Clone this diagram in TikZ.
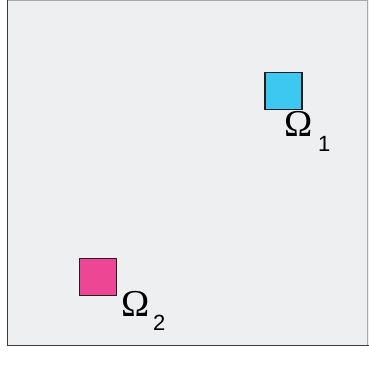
\documentclass[tikz,border=0pt]{standalone}
\usepackage{fontspec}
\setmainfont{Liberation Serif}
\newfontfamily\subfont{Liberation Sans}
\definecolor{bgpanel}{HTML}{EEEFF1}
\definecolor{edgedark}{HTML}{3A3A3C}
\definecolor{edgelight}{HTML}{A8A9AB}
\definecolor{sqblue}{HTML}{3CC8F0}
\definecolor{sqpink}{HTML}{EC4695}
\definecolor{sqedge}{HTML}{231F20}
\tikzset{
  sqbox/.style={draw=sqedge, line width=1.3pt, minimum size=37pt, inner sep=0pt},
  omg/.style={anchor=base west, inner sep=0pt, font=\fontsize{38}{40}\selectfont},
  sub/.style={anchor=base west, inner sep=0pt, font=\subfont\fontsize{22}{24}\selectfont}
}
\begin{document}
\begin{tikzpicture}[x=1pt,y=1pt]
\useasboundingbox (0,0) rectangle (369,370);
\fill[bgpanel] (7.5,24.5) rectangle (369,370);
\draw[edgelight, line width=1pt] (7.5,369.5) -- (367.5,369.5) -- (367.5,24.5);
\draw[edgedark, line width=1.6pt] (7.5,370) -- (7.5,24.5) -- (369,24.5);
\node[sqbox, fill=sqblue] (s1) at (283.5,279) {};
\node[sqbox, fill=sqpink] (s2) at (98,93) {};
\node[omg] (o1) at (284,233.5) {Ω};
\node[sub] (n1) at (318,218.5) {1};
\node[omg] (o2) at (121,53.5) {Ω};
\node[sub] (n2) at (153,39.5) {2};
\end{tikzpicture}
\end{document}
